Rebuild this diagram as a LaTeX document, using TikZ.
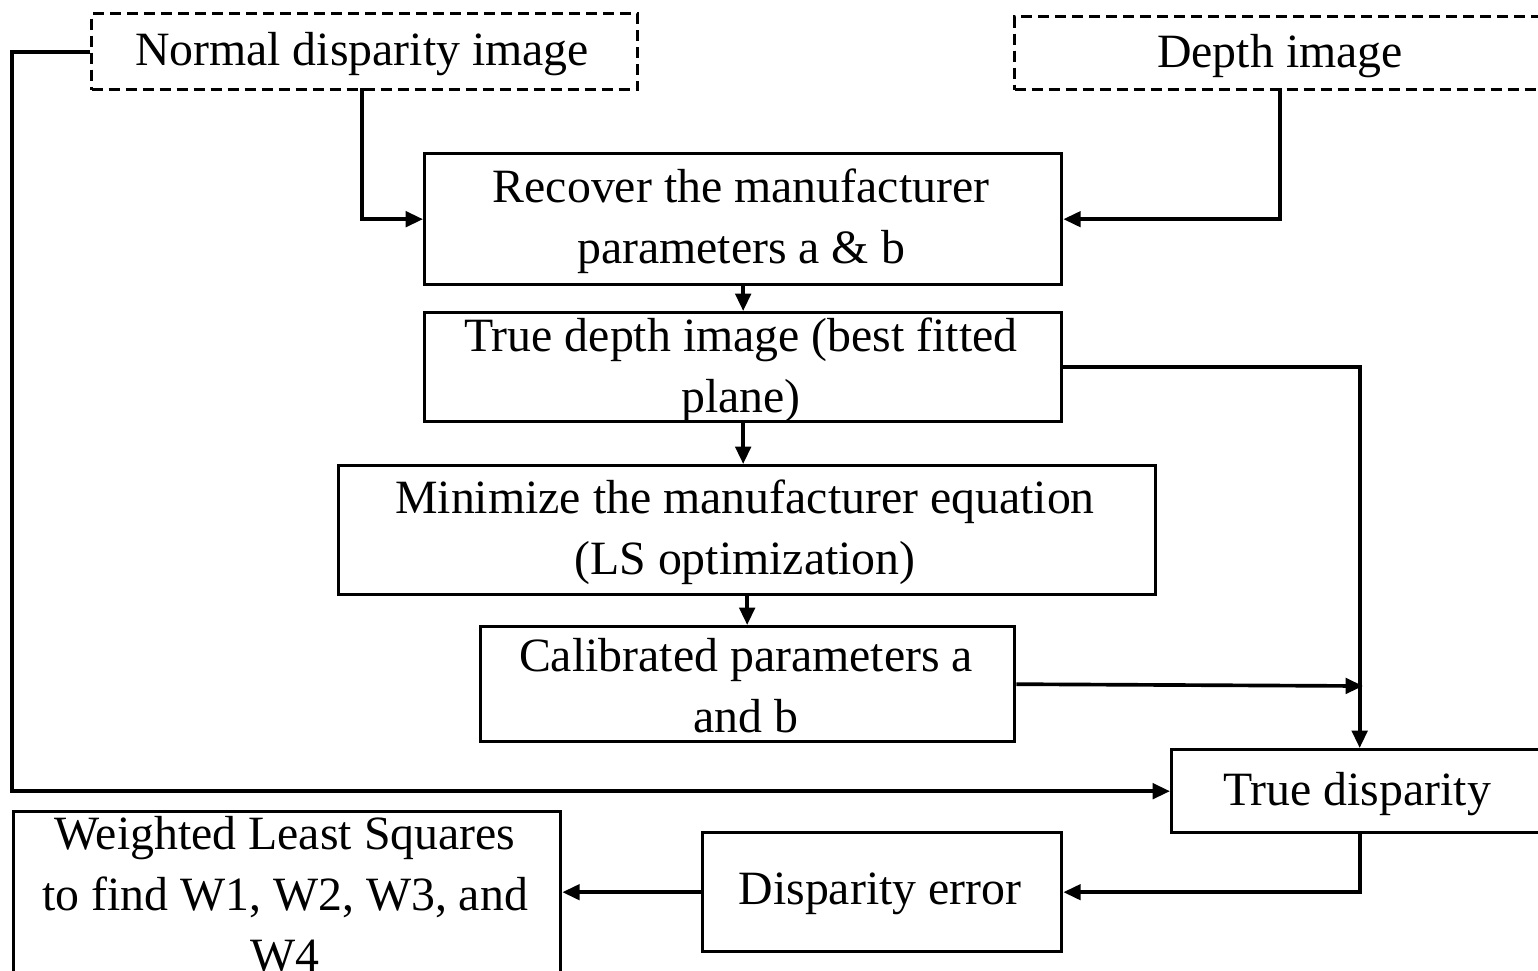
\documentclass[tikz,border=0pt]{standalone}
\usepackage{fontspec}
\setmainfont{Liberation Serif}
\usetikzlibrary{arrows.meta}
\begin{document}
\begin{tikzpicture}[x=0.3pt,y=-0.3pt,
  every node/.style={font=\fontsize{14.34}{18.3}\selectfont},
  frame/.style={draw,line width=1pt,inner sep=0pt,anchor=north west},
  dashframe/.style={frame,dash pattern=on 3.3pt off 1.8pt},
  txt/.style={align=center,inner sep=0pt},
  link/.style={line width=1.1pt,-{Triangle[length=5.2pt,width=4.6pt]}}]
\useasboundingbox (0,0) rectangle (1538,970);
\clip (0,0) rectangle (1538,970);

% boxes: top-left corner, width, height (in pixel units)
\node[dashframe,minimum width=546*0.3pt,minimum height=76*0.3pt] (nd) at (90,12) {};
\node[dashframe,minimum width=533*0.3pt,minimum height=73*0.3pt] (di) at (1013,15) {};
\node[frame,minimum width=637*0.3pt,minimum height=131*0.3pt] (rec) at (423,152) {};
\node[frame,minimum width=637*0.3pt,minimum height=109*0.3pt] (tdi) at (423,311) {};
\node[frame,minimum width=817*0.3pt,minimum height=129*0.3pt] (min) at (337,464) {};
\node[frame,minimum width=534*0.3pt,minimum height=115*0.3pt] (cal) at (479,625) {};
\node[frame,minimum width=376*0.3pt,minimum height=83*0.3pt] (td) at (1170,748) {};
\node[frame,minimum width=359*0.3pt,minimum height=119*0.3pt] (de) at (701,831) {};
\node[frame,minimum width=547*0.3pt,minimum height=162*0.3pt] (wls) at (12,810) {};

% texts
\node[txt] (ndt) at (362,54) {Normal disparity image};
\node[txt] (dit) at (1280,56) {Depth image};
\node[txt] (rect) at (741,221) {Recover the manufacturer\\parameters a \& b};
\node[txt] (tdit) at (741,370) {True depth image (best fitted\\plane)};
\node[txt] (mint) at (745,532) {Minimize the manufacturer equation\\(LS optimization)};
\node[txt] (calt) at (746,686) {Calibrated parameters a\\and b};
\node[txt] (tdt) at (1357,794) {True disparity};
\node[txt] (det) at (880,894) {Disparity error};
\node[txt] (wlst) at (285,894) {Weighted Least Squares\\to find W1, W2, W3, and\\W4};

% connectors
\coordinate (ndl) at (12,50);
\coordinate (ndb) at (362,88);
\coordinate (dib) at (1280,88);
\coordinate (calend) at (1363,686);
\draw[link] (nd.west) -- (nd.west -| ndl) |- (td.west);
\draw[link] (ndb) |- (rec.west);
\draw[link] (dib) |- (rec.east);
\draw[link] (rec.south) -- (tdi.north);
\draw[link] (tdi.south) -- (tdi.south |- min.north);
\draw[link] (min.south) -- (min.south |- cal.north);
\draw[link] (tdi.east) -| (td.north);
\draw[link] (cal.east) -- (calend);
\draw[link] (td.south) |- (de.east);
\draw[link] (de.west) -- (de.west -| wls.east);
\end{tikzpicture}
\end{document}
